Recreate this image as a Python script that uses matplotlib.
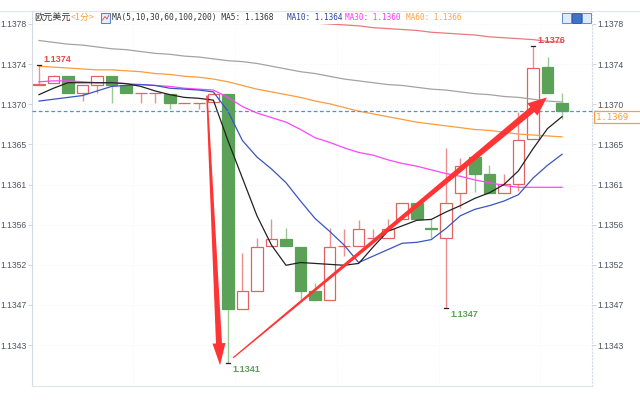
import matplotlib
matplotlib.use("Agg")
import matplotlib.pyplot as plt
from matplotlib.patches import Rectangle, Polygon
from matplotlib.lines import Line2D
import numpy as np

# ---------------- data ----------------
opens = [1.13714, 1.13716, 1.13723, 1.13705, 1.13714, 1.13723, 1.13713, 1.13705, 1.13705, 1.13704,
         1.13694, 1.13694, 1.13695, 1.13704, 1.13469, 1.13489, 1.13538, 1.13546, 1.13537, 1.13489,
         1.13479, 1.13538, 1.13538, 1.13547, 1.13547, 1.13567, 1.13585, 1.13558, 1.13547, 1.13596,
         1.13635, 1.13616, 1.13596, 1.13606, 1.13655, 1.13733, 1.13694]
highs = [1.13735, 1.13724, 1.13723, 1.13714, 1.13723, 1.13723, 1.13713, 1.13705, 1.13705, 1.13704,
         1.13694, 1.13694, 1.13705, 1.13704, 1.13530, 1.13547, 1.13567, 1.13558, 1.13537, 1.13498,
         1.13558, 1.13557, 1.13566, 1.13557, 1.13567, 1.13585, 1.13585, 1.13567, 1.13645, 1.13634,
         1.13635, 1.13626, 1.13617, 1.13684, 1.13756, 1.13744, 1.13705]
lows = [1.13714, 1.13716, 1.13705, 1.13696, 1.13705, 1.13694, 1.13705, 1.13694, 1.13694, 1.13687,
        1.13694, 1.13687, 1.13695, 1.13410, 1.13469, 1.13489, 1.13538, 1.13538, 1.13479, 1.13479,
        1.13479, 1.13527, 1.13538, 1.13547, 1.13547, 1.13567, 1.13567, 1.13547, 1.13470, 1.13579,
        1.13597, 1.13596, 1.13596, 1.13598, 1.13655, 1.13705, 1.13676]
closes = [1.13715, 1.13723, 1.13705, 1.13714, 1.13723, 1.13714, 1.13705, 1.13705, 1.13705, 1.13694,
          1.13694, 1.13694, 1.13704, 1.13469, 1.13489, 1.13537, 1.13546, 1.13538, 1.13489, 1.13479,
          1.13537, 1.13538, 1.13557, 1.13547, 1.13557, 1.13585, 1.13567, 1.13557, 1.13585, 1.13625,
          1.13617, 1.13596, 1.13606, 1.13654, 1.13732, 1.13705, 1.13685]

ma5 = [1.13703, 1.13710, 1.13716, 1.13716, 1.13716, 1.13716, 1.13715, 1.13712, 1.13707, 1.13703,
       1.13700, 1.13699, 1.13697, 1.13653, 1.13612, 1.13571, 1.13539, 1.13517, 1.13520, 1.13519,
       1.13518, 1.13517, 1.13519, 1.13537, 1.13554, 1.13560, 1.13566, 1.13567, 1.13575, 1.13582,
       1.13590, 1.13596, 1.13605, 1.13620, 1.13644, 1.13666, 1.13679]
ma10 = [1.13696, 1.13698, 1.13700, 1.13702, 1.13707, 1.13712, 1.13713, 1.13714, 1.13713, 1.13710,
        1.13709, 1.13708, 1.13706, 1.13685, 1.13653, 1.13635, 1.13622, 1.13607, 1.13587, 1.13568,
        1.13554, 1.13539, 1.13520, 1.13527, 1.13534, 1.13541, 1.13542, 1.13545, 1.13557, 1.13571,
        1.13578, 1.13582, 1.13587, 1.13594, 1.13612, 1.13626, 1.13638]
ma30 = [1.13717, 1.13718, 1.13718, 1.13717, 1.13716, 1.13716, 1.13715, 1.13714, 1.13713, 1.13712,
        1.13710, 1.13709, 1.13708, 1.13700, 1.13690, 1.13683, 1.13678, 1.13673, 1.13665, 1.13656,
        1.13651, 1.13645, 1.13640, 1.13637, 1.13632, 1.13628, 1.13625, 1.13621, 1.13617, 1.13614,
        1.13610, 1.13607, 1.13604, 1.13602, 1.13602, 1.13602, 1.13602]
ma60 = [1.13734, 1.13733, 1.13732, 1.13731, 1.13730, 1.13730, 1.13729, 1.13728, 1.13726, 1.13725,
        1.13723, 1.13722, 1.13720, 1.13717, 1.13713, 1.13709, 1.13706, 1.13703, 1.13700, 1.13696,
        1.13693, 1.13689, 1.13685, 1.13682, 1.13679, 1.13676, 1.13673, 1.13671, 1.13669, 1.13667,
        1.13665, 1.13664, 1.13662, 1.13660, 1.13659, 1.13658, 1.13657]
ma100 = [1.13762, 1.13760, 1.13758, 1.13757, 1.13755, 1.13753, 1.13752, 1.13750, 1.13748, 1.13747,
         1.13745, 1.13744, 1.13742, 1.13740, 1.13739, 1.13737, 1.13734, 1.13731, 1.13728, 1.13726,
         1.13723, 1.13720, 1.13718, 1.13716, 1.13714, 1.13713, 1.13711, 1.13709, 1.13708, 1.13706,
         1.13704, 1.13703, 1.13701, 1.13700, 1.13698, 1.13696, 1.13695]
ma200 = [1.13805, 1.13804, 1.13803, 1.13801, 1.13800, 1.13799, 1.13798, 1.13796, 1.13795, 1.13794,
         1.13793, 1.13791, 1.13790, 1.13789, 1.13788, 1.13786, 1.13785, 1.13784, 1.13783, 1.13781,
         1.13780, 1.13779, 1.13778, 1.13776, 1.13775, 1.13774, 1.13773, 1.13771, 1.13770, 1.13769,
         1.13768, 1.13766, 1.13765, 1.13764, 1.13763, 1.13761, 1.13760]

ytick_values = [1.1378, 1.1373625, 1.136925, 1.1364875, 1.13605, 1.1356125, 1.135175, 1.1347375, 1.1343]
ytick_labels = ["1.1378", "1.1374", "1.1370", "1.1365", "1.1361", "1.1356", "1.1352", "1.1347", "1.1343"]

title_name = "欧元美元"
title_period = "<1分>"
ma_title = "MA(5,10,30,60,100,200) MA5: 1.1368"
ma10_text = "MA10: 1.1364"
ma30_text = "MA30: 1.1360"
ma60_text = "MA60: 1.1366"
last_price_label = "1.1369"

# extreme markers: (candle index, value, label, colour, above?)
extremes = [(1, 1.1374, "1.1374", "#e04848", True),
            (14, 1.1341, "1.1341", "#5e9e5a", False),
            (29, 1.1347, "1.1347", "#5e9e5a", False),
            (35, 1.1376, "1.1376", "#e04848", True)]
extreme_points = [(1, highs[0]), (14, lows[13]), (29, lows[28]), (35, highs[34])]

# ---------------- figure ----------------
W, H = 640, 400
fig = plt.figure(figsize=(6.4, 4), dpi=100)
fig.patch.set_facecolor("white")
ax = fig.add_axes([32 / W, 14 / H, 560 / W, 362 / H])
n = len(closes)
x = np.arange(1, n + 1)
ax.set_xlim(0.518, 39.06)
ax.set_ylim(1.133854, 1.137789)

# grid
for v in ytick_values:
    ax.axhline(v, color="#eef1f5", lw=0.6, ls=(0, (1, 2)), zorder=0)
for gx in [7, 14, 21, 28, 35]:
    ax.axvline(gx + 0.5, color="#f1f3f6", lw=0.6, ls=(0, (1, 2)), zorder=0)

RED = "#e26262"
RED_WICK = "#ee8e8e"
GREEN = "#5ba158"
GREEN_WICK = "#98cc94"
for i in range(n):
    o, h, l, c = opens[i], highs[i], lows[i], closes[i]
    up = c >= o
    col = RED if up else GREEN
    wcol = RED_WICK if up else GREEN_WICK
    lo_b, hi_b = min(o, c), max(o, c)
    ax.vlines(x[i], l, h, color=wcol, lw=1.0, zorder=2)
    ax.add_patch(Rectangle((x[i] - 0.4, lo_b), 0.8, max(hi_b - lo_b, 1e-7),
                           facecolor="white" if up else GREEN, edgecolor=col,
                           lw=0.9, zorder=3))

ax.plot(x, ma200, color="#e87a7a", lw=0.9, zorder=4)
ax.plot(x, ma100, color="#a3a3a3", lw=0.9, zorder=4)
ax.plot(x, ma60, color="#ff9b3d", lw=0.9, zorder=4)
ax.plot(x, ma30, color="#ff44ff", lw=0.9, zorder=4)
ax.plot(x, ma10, color="#3b55bf", lw=0.9, zorder=4)
ax.plot(x, ma5, color="#222222", lw=0.9, zorder=4)

# last price line and label
ax.axhline(closes[-1], xmin=0, xmax=1.015, color="#3a95ff", lw=0.9,
           ls=(0, (3, 2)), zorder=5, clip_on=False)
ax.annotate(last_price_label + "  ", xy=(1, closes[-1]), xycoords=("axes fraction", "data"),
            xytext=(3, -4.3), textcoords="offset points", va="center", ha="left",
            fontsize=6.5, family="DejaVu Sans Mono", color="#ff9b3d",
            bbox=dict(boxstyle="square,pad=0.2", facecolor="white", edgecolor="#ff9b3d", lw=0.9),
            annotation_clip=False, zorder=6)

# extremes
for (idx, val), (_, _, lab, colr, above) in zip(extreme_points, extremes):
    ax.plot([idx - 0.15, idx + 0.15], [val, val], color="#222222", lw=0.9, zorder=6, clip_on=False)
    ax.annotate(lab, xy=(idx, val), xytext=(3, 4 if above else -4.5), textcoords="offset points",
                ha="left", va="center", fontsize=6.5, fontweight="bold",
                family="Liberation Sans", color=colr, zorder=7, annotation_clip=False)

# ticks
ax.set_yticks(ytick_values)
ax.set_yticklabels(ytick_labels)
ax.tick_params(axis="y", which="both", left=True, right=True, labelleft=True, labelright=True,
               length=3, width=0.6, color="#c8ced6", pad=0.8, labelsize=6.2, labelcolor="#4e5360")
for lab in ax.get_yticklabels():
    lab.set_family("Liberation Sans")
ax.set_xticks([])
ax.spines["top"].set_visible(False)
ax.spines["left"].set_color("#d3dae3")
ax.spines["bottom"].set_color("#dfe5ec")
ax.spines["right"].set_color("#d3dae3")
ax.spines["right"].set_linestyle((0, (1, 2)))
for s in ["left", "bottom", "right"]:
    ax.spines[s].set_linewidth(0.8)

fig.canvas.draw()


def tapered_arrow(p0, p1, w0, w1, hw, hl, color):
    d0 = ax.transData.transform(p0)
    d1 = ax.transData.transform(p1)
    v = d1 - d0
    L = np.hypot(*v)
    u = v / L
    nr = np.array([-u[1], u[0]])
    base = d1 - u * hl
    pts = [d0 + nr * w0 / 2, base + nr * w1 / 2, base + nr * hw / 2, d1,
           base - nr * hw / 2, base - nr * w1 / 2, d0 - nr * w0 / 2]
    pts = fig.transFigure.inverted().transform(np.array(pts))
    fig.add_artist(Polygon(pts, closed=True, facecolor=color, edgecolor="none",
                           transform=fig.transFigure, zorder=10))


ARROW = "#ff3434"
tapered_arrow((12.56, 1.13702), (13.46, 1.13408), 1.5, 6, 13, 22, ARROW)
tapered_arrow((14.35, 1.13416), (35.96, 1.13700), 1.2, 6.5, 16, 19, ARROW)

# header
fig.add_artist(Line2D([0, 1], [1 - 11 / H, 1 - 11 / H], color="#dfe5ec", lw=0.8,
                      transform=fig.transFigure))
fig.add_artist(Line2D([32 / W, 32 / W], [1 - 11 / H, 1 - 24 / H], color="#d3dae3", lw=0.8,
                      transform=fig.transFigure))
fig.add_artist(Line2D([592 / W, 592 / W], [1 - 11 / H, 1 - 24 / H], color="#d3dae3", lw=0.8,
                      ls=(0, (1, 2)), transform=fig.transFigure))

hy = 1 - 17.5 / H
fig.text(34 / W, hy, title_name, fontsize=6.6, family=["Noto Sans CJK SC", "DejaVu Sans"],
         color="#333333", va="center", ha="left")
fig.text(71 / W, hy, title_period, fontsize=6.4, family=["Noto Sans CJK SC", "DejaVu Sans"],
         color="#f5a030", va="center", ha="left")
fig.add_artist(Rectangle((101 / W, 1 - 23 / H), 9 / W, 10 / H, facecolor="#e4eefb",
                         edgecolor="#4f80cf", lw=0.7, transform=fig.transFigure))
fig.add_artist(Line2D([102.5 / W, 105 / W, 107 / W, 109 / W],
                      [1 - 20 / H, 1 - 16.5 / H, 1 - 19 / H, 1 - 15 / H],
                      color="#e04848", lw=0.6, transform=fig.transFigure))
mono = ["DejaVu Sans Mono", "Noto Sans CJK SC"]
fig.text(112 / W, hy, ma_title, fontsize=5.7, family=mono, color="#333333", va="center", ha="left")
fig.text(287 / W, hy, ma10_text, fontsize=5.5, family=mono, color="#2b3fa8", va="center", ha="left")
fig.text(345 / W, hy, ma30_text, fontsize=5.5, family=mono, color="#ff33ff", va="center", ha="left")
fig.text(406 / W, hy, ma60_text, fontsize=5.5, family=mono, color="#ffa040", va="center", ha="left")

for k, (fc, ec) in enumerate([("#dfeafa", "#5a8bd6"), ("#3f72c8", "#2f5fb0"), ("#dfeafa", "#5a8bd6")]):
    fig.add_artist(Rectangle(((562 + 10 * k) / W, 1 - 23 / H), 9 / W, 10 / H, facecolor=fc,
                             edgecolor=ec, lw=0.7, transform=fig.transFigure))

fig.savefig("out.png", dpi=100, facecolor="white")
